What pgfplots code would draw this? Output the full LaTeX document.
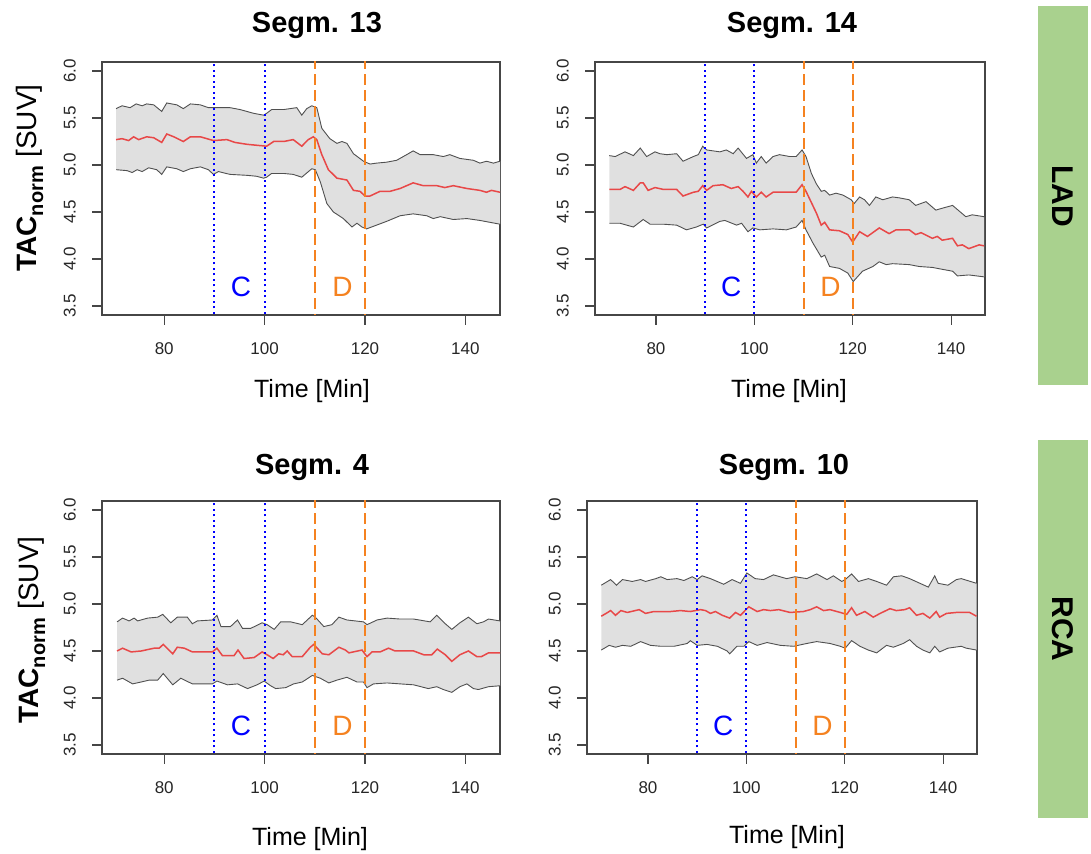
\documentclass[border=0pt]{standalone}
\usepackage{pgfplots}
\pgfplotsset{compat=1.18}
\usepackage{pgfplotstable}
\usepgfplotslibrary{fillbetween}
\usepackage{fontspec}
\setmainfont{Liberation Sans}

\definecolor{bandfill}{RGB}{224,224,224}
\definecolor{bandline}{RGB}{80,80,80}
\definecolor{meanred}{RGB}{232,72,72}
\definecolor{orangeD}{RGB}{245,130,32}
\definecolor{axisgray}{RGB}{70,70,70}
\definecolor{greenbar}{RGB}{169,209,142}

% ---------- Segm. 13 ----------
\pgfplotstableread{
x y
70.4 5.60
71.6 5.63
73.2 5.61
74.4 5.65
75.6 5.63
76.5 5.65
77.9 5.64
79.5 5.57
80.5 5.66
82.5 5.64
83.8 5.60
85.2 5.65
87.2 5.64
88.8 5.61
91.1 5.61
93.1 5.61
95.1 5.59
97.8 5.55
99.8 5.53
100.4 5.55
101.4 5.59
103.8 5.59
106.4 5.61
107.4 5.53
108.4 5.60
109.4 5.63
110.4 5.61
111.4 5.39
113.0 5.28
114.4 5.23
115.4 5.25
116.4 5.23
117.7 5.12
119.7 5.04
121.0 5.01
122.3 5.02
124.3 5.03
126.3 5.05
128.3 5.11
129.6 5.15
131.0 5.11
133.6 5.11
135.6 5.09
136.9 5.11
138.9 5.07
141.6 5.05
142.9 5.02
144.2 5.04
145.6 5.02
146.9 5.04
}\upA
\pgfplotstableread{
x y
70.4 5.27
71.6 5.28
72.9 5.26
73.9 5.30
74.9 5.27
76.5 5.30
77.9 5.29
79.5 5.24
80.5 5.33
81.9 5.30
83.8 5.25
85.2 5.30
87.2 5.30
89.8 5.26
92.5 5.27
94.1 5.24
96.5 5.22
98.4 5.21
100.4 5.20
101.8 5.25
103.8 5.25
105.7 5.27
107.4 5.20
108.7 5.27
109.7 5.30
110.4 5.27
111.4 5.11
112.7 4.95
114.4 4.86
116.4 4.84
117.7 4.73
119.0 4.72
120.0 4.67
121.0 4.67
123.0 4.72
125.0 4.72
127.0 4.75
129.6 4.81
131.6 4.78
134.3 4.78
135.9 4.76
137.6 4.78
140.3 4.75
142.9 4.73
144.2 4.71
145.2 4.73
146.9 4.71
}\mnA
\pgfplotstableread{
x y
70.4 4.95
72.6 4.94
73.6 4.92
74.6 4.95
75.6 4.93
76.9 4.97
78.5 4.95
79.5 4.90
80.5 4.98
82.5 4.96
83.8 4.93
85.2 4.96
87.2 4.98
88.8 4.95
89.8 4.90
90.8 4.93
93.1 4.90
96.5 4.89
98.4 4.88
99.8 4.86
100.4 4.87
101.4 4.91
103.8 4.91
105.7 4.90
107.4 4.87
109.4 4.96
110.1 4.95
111.1 4.82
112.4 4.59
113.7 4.50
115.7 4.43
117.4 4.34
118.4 4.38
119.4 4.34
120.3 4.32
122.3 4.36
124.3 4.40
127.0 4.46
129.6 4.48
132.3 4.46
133.6 4.43
135.0 4.45
137.6 4.42
140.3 4.43
142.9 4.41
144.9 4.39
146.9 4.37
}\loA

% ---------- Segm. 14 ----------
\pgfplotstableread{
x y
70.5 5.10
71.7 5.09
73.7 5.14
75.4 5.10
76.8 5.18
78.1 5.09
79.8 5.14
80.8 5.12
82.2 5.11
84.2 5.12
85.5 5.04
87.6 5.09
88.6 5.11
89.5 5.20
90.3 5.16
93.0 5.14
94.3 5.16
95.7 5.12
96.7 5.18
98.4 5.07
99.7 5.11
100.4 5.02
101.4 5.09
102.4 5.02
103.8 5.09
105.1 5.11
107.2 5.09
108.5 5.09
109.7 5.16
110.5 5.09
111.6 4.91
112.6 4.80
113.6 4.72
114.3 4.73
115.3 4.68
116.6 4.70
118.0 4.68
119.7 4.63
120.3 4.59
121.4 4.66
122.4 4.63
123.4 4.57
124.7 4.66
126.1 4.63
128.1 4.66
129.5 4.65
131.5 4.63
132.8 4.57
134.9 4.61
136.9 4.52
138.2 4.54
140.3 4.57
143.0 4.45
144.3 4.47
146.7 4.45
}\upB
\pgfplotstableread{
x y
70.5 4.74
72.7 4.74
73.7 4.77
75.4 4.73
76.8 4.81
77.4 4.81
78.4 4.73
79.8 4.76
81.5 4.74
84.2 4.74
85.5 4.67
87.6 4.71
88.6 4.72
89.5 4.78
90.3 4.73
91.6 4.78
93.6 4.79
95.3 4.75
96.7 4.77
97.7 4.72
98.7 4.66
99.4 4.72
100.4 4.66
101.4 4.71
102.4 4.66
103.8 4.71
106.5 4.71
108.5 4.71
109.7 4.79
110.5 4.72
112.6 4.49
113.6 4.36
114.3 4.39
115.3 4.31
117.3 4.30
119.0 4.26
120.0 4.18
121.4 4.29
123.0 4.24
125.4 4.33
127.4 4.27
128.8 4.31
131.5 4.31
132.8 4.26
133.9 4.28
136.2 4.22
137.2 4.24
138.2 4.20
140.3 4.22
141.3 4.14
142.3 4.15
143.6 4.11
145.7 4.15
146.7 4.14
}\mnB
\pgfplotstableread{
x y
70.5 4.38
72.7 4.38
75.4 4.34
77.4 4.42
78.8 4.37
81.5 4.37
84.2 4.36
86.2 4.31
88.2 4.34
89.6 4.37
90.3 4.33
93.0 4.40
94.0 4.41
96.4 4.36
97.4 4.38
98.7 4.29
99.7 4.33
101.1 4.31
103.8 4.32
106.5 4.31
108.5 4.34
109.7 4.41
110.5 4.31
111.9 4.17
113.6 4.02
114.3 4.04
115.3 3.92
117.3 3.90
119.0 3.85
120.1 3.76
122.0 3.87
124.1 3.92
125.4 3.97
126.8 3.94
128.1 3.95
131.5 3.94
133.5 3.92
136.2 3.91
138.2 3.89
140.3 3.87
141.3 3.82
143.6 3.83
146.7 3.81
}\loB

% ---------- Segm. 4 ----------
\pgfplotstableread{
x y
70.6 4.81
71.7 4.85
73.0 4.82
74.0 4.85
74.7 4.82
76.7 4.85
78.7 4.86
79.7 4.89
81.3 4.80
82.6 4.86
84.6 4.86
85.6 4.79
86.6 4.82
89.6 4.83
90.5 4.88
91.3 4.76
93.2 4.76
94.6 4.83
95.6 4.74
97.2 4.74
99.5 4.80
100.5 4.78
101.9 4.73
103.2 4.81
105.2 4.81
107.5 4.78
109.5 4.88
110.1 4.86
111.8 4.76
113.4 4.78
114.8 4.86
116.4 4.83
119.7 4.81
120.4 4.78
122.4 4.83
124.4 4.85
127.0 4.84
129.7 4.84
133.0 4.81
134.3 4.88
136.0 4.79
137.3 4.73
138.9 4.80
140.6 4.86
142.3 4.79
143.6 4.81
144.6 4.84
146.9 4.82
}\upC
\pgfplotstableread{
x y
70.6 4.50
71.7 4.53
73.4 4.49
75.4 4.50
78.0 4.53
79.0 4.53
79.8 4.57
81.7 4.47
82.6 4.54
84.0 4.53
85.6 4.49
89.6 4.49
90.5 4.53
91.6 4.45
93.9 4.45
94.7 4.51
95.9 4.42
97.9 4.43
99.5 4.49
100.5 4.46
101.7 4.42
102.8 4.47
103.7 4.46
104.5 4.50
105.5 4.44
107.5 4.44
109.1 4.54
109.8 4.57
111.5 4.47
112.8 4.46
114.8 4.54
116.1 4.51
116.8 4.48
119.4 4.51
120.4 4.44
121.4 4.49
123.0 4.49
124.7 4.53
126.0 4.50
129.7 4.50
131.7 4.46
133.3 4.46
134.4 4.52
136.0 4.46
137.3 4.39
138.9 4.46
140.6 4.50
142.3 4.44
143.2 4.44
144.6 4.48
146.9 4.48
}\mnC
\pgfplotstableread{
x y
70.6 4.19
71.7 4.21
73.7 4.15
75.4 4.17
77.0 4.19
78.7 4.19
79.8 4.26
81.7 4.14
83.3 4.21
85.6 4.15
87.9 4.15
89.6 4.15
90.5 4.18
92.6 4.14
94.6 4.15
96.6 4.10
98.5 4.14
99.9 4.18
101.2 4.13
102.2 4.10
104.2 4.11
105.8 4.15
107.5 4.17
109.5 4.24
111.1 4.21
112.8 4.16
114.4 4.19
116.4 4.22
118.4 4.17
119.7 4.17
120.4 4.11
121.7 4.15
124.4 4.16
127.0 4.15
129.7 4.14
132.6 4.10
134.3 4.12
135.6 4.09
137.3 4.06
138.9 4.12
140.3 4.15
141.6 4.10
142.6 4.09
144.6 4.12
146.9 4.13
}\loC

% ---------- Segm. 10 ----------
\pgfplotstableread{
x y
70.5 5.20
72.4 5.26
73.6 5.20
74.8 5.26
76.8 5.24
78.5 5.26
79.5 5.24
81.6 5.27
82.6 5.29
83.9 5.26
85.9 5.27
87.3 5.25
89.0 5.29
90.0 5.26
91.0 5.30
92.7 5.27
95.4 5.21
97.1 5.26
98.8 5.22
100.1 5.33
101.8 5.27
103.5 5.26
105.5 5.31
108.2 5.27
109.9 5.29
112.3 5.27
114.3 5.32
116.4 5.26
117.7 5.30
119.4 5.24
120.1 5.26
121.4 5.32
122.8 5.24
124.8 5.27
126.5 5.24
128.5 5.20
129.9 5.29
131.6 5.30
133.2 5.27
135.3 5.22
137.0 5.18
138.3 5.30
139.0 5.22
141.0 5.20
142.7 5.26
143.7 5.27
146.8 5.22
}\upD
\pgfplotstableread{
x y
70.5 4.87
71.8 4.91
72.4 4.93
73.4 4.88
74.5 4.93
75.8 4.91
78.2 4.94
79.5 4.90
81.2 4.92
84.6 4.92
86.6 4.93
88.6 4.92
90.7 4.94
91.7 4.93
92.7 4.90
93.7 4.92
95.1 4.88
96.6 4.85
97.8 4.91
98.8 4.88
100.5 4.97
102.2 4.92
103.5 4.94
104.9 4.93
106.6 4.94
108.9 4.91
111.6 4.92
113.0 4.94
114.3 4.97
115.7 4.93
117.0 4.94
119.1 4.91
120.4 4.89
121.4 4.96
122.4 4.88
124.1 4.92
125.8 4.86
127.2 4.90
129.2 4.95
130.5 4.93
132.2 4.94
133.2 4.96
134.6 4.88
135.9 4.90
137.3 4.85
138.6 4.92
139.3 4.86
140.7 4.90
142.7 4.91
145.4 4.91
146.8 4.87
}\mnD
\pgfplotstableread{
x y
70.5 4.51
72.1 4.56
73.4 4.54
74.8 4.56
76.5 4.55
78.5 4.60
80.5 4.56
82.6 4.55
85.3 4.55
88.0 4.58
88.6 4.61
90.0 4.56
92.0 4.57
94.1 4.55
96.1 4.50
96.6 4.47
98.1 4.55
99.5 4.55
100.5 4.60
102.2 4.56
104.2 4.59
106.9 4.56
109.6 4.55
112.3 4.58
114.3 4.60
117.0 4.58
119.1 4.55
120.1 4.53
121.4 4.61
123.1 4.55
124.8 4.51
126.5 4.48
128.5 4.56
129.9 4.54
131.9 4.58
133.2 4.62
134.6 4.55
135.9 4.51
137.3 4.48
138.3 4.55
139.3 4.49
141.0 4.53
143.7 4.55
144.7 4.53
146.8 4.51
}\loD

\pgfplotsset{
  panel/.style={
    scale only axis, height=253pt,
    xmin=67.6, xmax=146.9, ymin=3.404, ymax=6.096,
    axis line style={draw=axisgray, line width=1.1pt},
    xtick={80,100,120,140}, ytick={3.5,4,4.5,5,5.5,6},
    xtick pos=lower, ytick pos=left,
    tick align=outside, major tick length=10pt,
    tick style={draw=axisgray, line width=1.1pt},
    /pgf/number format/assume math mode=true,
    tick label style={font=\fontsize{17}{20}\selectfont, text=black!85, inner sep=0pt},
    xticklabel style={anchor=north},
    xticklabel shift=17pt,
    yticklabel style={/pgf/number format/fixed, /pgf/number format/fixed zerofill, /pgf/number format/precision=1,
                      rotate=90, anchor=south},
    yticklabel shift=16pt,
    clip=true,
  },
  band/.style={draw=bandline, line width=0.9pt},
  mean/.style={draw=meanred, line width=1.5pt},
  cline/.style={blue, line width=2pt, dash pattern=on 2pt off 3.5pt},
  dline/.style={orangeD, line width=2pt, dash pattern=on 11pt off 5pt},
}

\newcommand{\panelbody}[3]{%
  \addplot[draw=none, name path=up] table {#1};
  \addplot[draw=none, name path=lo] table {#3};
  \addplot[fill=bandfill, draw=none] fill between[of=up and lo];
  \addplot[band] table {#1};
  \addplot[band] table {#3};
  \addplot[mean] table {#2};
  \addplot[cline] coordinates {(90,3.3) (90,6.2)};
  \addplot[cline] coordinates {(100,3.3) (100,6.2)};
  \addplot[dline] coordinates {(110,3.3) (110,6.2)};
  \addplot[dline] coordinates {(120,3.3) (120,6.2)};
  \node[blue, font=\fontsize{28}{32}\selectfont, anchor=base] at (axis cs:95.3,3.60) {C};
  \node[orangeD, font=\fontsize{28}{32}\selectfont, anchor=base] at (axis cs:115.5,3.60) {D};
}

\newcommand{\ylab}{\fontsize{28}{32}\selectfont\textbf{TAC}\raisebox{-7pt}{\fontsize{20}{24}\selectfont\bfseries norm}\hspace{0.3em}[SUV]}

\begin{document}
\begin{tikzpicture}[x=1pt,y=1pt]
\path (0,0) rectangle (1091,852);

% side bars
\fill[greenbar] (1038,467) rectangle (1088,846);
\fill[greenbar] (1038,34) rectangle (1088,412);
\node[rotate=-90, font=\fontsize{30}{34}\selectfont\bfseries] at (1063,656) {LAD};
\node[rotate=-90, font=\fontsize{30}{34}\selectfont\bfseries] at (1063,223) {RCA};

% titles
\node[anchor=base, font=\fontsize{29}{34}\selectfont\bfseries] at (317,819) {Segm. 13};
\node[anchor=base, font=\fontsize{29}{34}\selectfont\bfseries] at (792,819) {Segm. 14};
\node[anchor=base, font=\fontsize{29}{34}\selectfont\bfseries] at (312,377) {Segm. 4};
\node[anchor=base, font=\fontsize{29}{34}\selectfont\bfseries] at (784,377) {Segm. 10};

% x labels
\node[anchor=base, font=\fontsize{25}{30}\selectfont] at (312,454) {Time [Min]};
\node[anchor=base, font=\fontsize{25}{30}\selectfont] at (789,454) {Time [Min]};
\node[anchor=base, font=\fontsize{25}{30}\selectfont] at (310,7) {Time [Min]};
\node[anchor=base, font=\fontsize{25}{30}\selectfont] at (787,9) {Time [Min]};

% y labels
\node[rotate=90, anchor=base] at (36,674) {\ylab};
\node[rotate=90, anchor=base] at (38,222) {\ylab};

\begin{axis}[panel, at={(102pt,537pt)}, anchor=south west, width=398pt]
\panelbody{\upA}{\mnA}{\loA}
\end{axis}
\begin{axis}[panel, at={(595pt,537pt)}, anchor=south west, width=390pt]
\panelbody{\upB}{\mnB}{\loB}
\end{axis}
\begin{axis}[panel, at={(102pt,98pt)}, anchor=south west, width=398pt]
\panelbody{\upC}{\mnC}{\loC}
\end{axis}
\begin{axis}[panel, at={(587pt,98pt)}, anchor=south west, width=390pt]
\panelbody{\upD}{\mnD}{\loD}
\end{axis}
\end{tikzpicture}
\end{document}
